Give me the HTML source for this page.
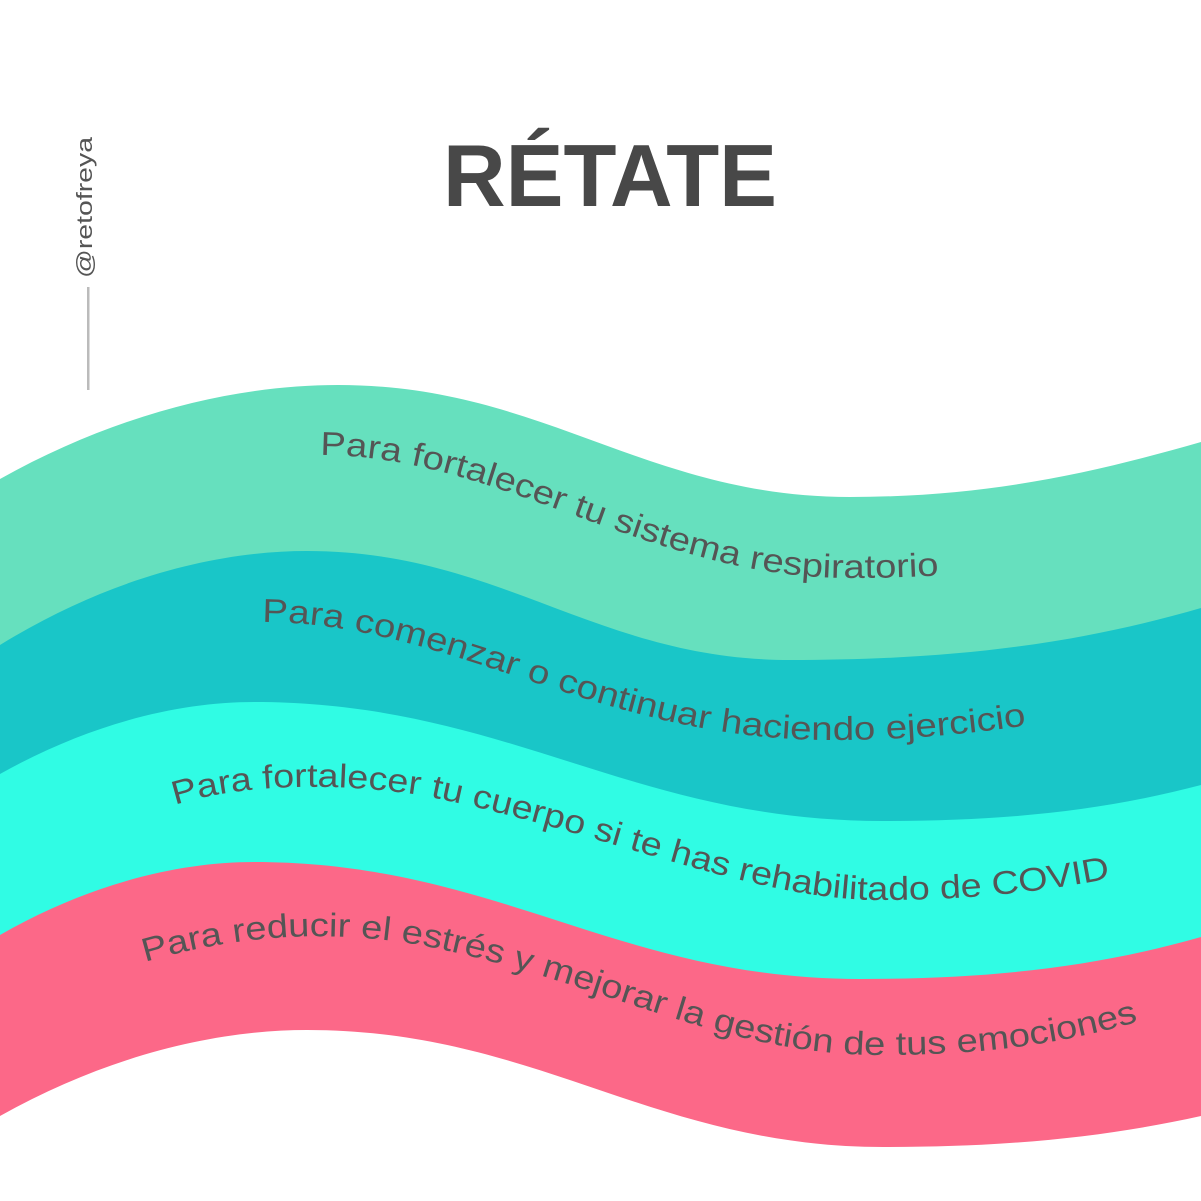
<!DOCTYPE html>
<html><head><meta charset="utf-8"><style>
html,body{margin:0;padding:0;background:#fff;}
svg{display:block;}
</style></head><body>
<svg width="1201" height="1201" viewBox="0 0 1201 1201" xmlns="http://www.w3.org/2000/svg">
<rect width="1201" height="1201" fill="#fff"/>
<text x="443" y="206" font-family="Liberation Sans, sans-serif" font-weight="bold" font-size="88" fill="#484848" textLength="334" lengthAdjust="spacingAndGlyphs">RÉTATE</text>
<text transform="translate(92,278) rotate(-90)" font-family="Liberation Sans, sans-serif" font-size="22" fill="#555" textLength="141" lengthAdjust="spacingAndGlyphs">@retofreya</text>
<rect x="87" y="287" width="2.5" height="103" fill="#bbb"/>

<path d="M0,479 C118,413 237,385 338,385 C543,385 645,497 850,497 C990,497 1096,472 1201,442 L1201,1201 L0,1201Z" fill="#66E0BE"/>
<path d="M0,645 C107,579 215,551 307,551 C500,551 597,660 790,660 C954,660 1077,644 1201,608 L1201,1201 L0,1201Z" fill="#19C6C8"/>
<path d="M0,774 C89,724 178,702 254,702 C506,702 631,821 883,821 C1010,821 1106,810 1201,785 L1201,1201 L0,1201Z" fill="#30FCE4"/>
<path d="M0,935 C89,884 178,862 254,862 C496,862 618,979 860,979 C996,979 1099,966 1201,937 L1201,1201 L0,1201Z" fill="#FC6888"/>
<path d="M0,1116 C107,1056 215,1030 307,1030 C537,1030 653,1147 883,1147 C1010,1147 1106,1137 1201,1116 L1201,1201 L0,1201Z" fill="#fff"/>

<defs>
<path id="t1" d="M320,455 C500,455 650,578 850,578 C950,578 1050,568 1150,548"/>
<path id="t2" d="M262,622 C450,622 600,740 830,740 C950,740 1050,725 1150,700"/>
<path id="t3" d="M175,805 C230,787 320,780 420,795 C600,830 750,900 880,900 C980,900 1060,890 1150,870"/>
<path id="t4" d="M145,962 C230,937 320,928 420,945 C600,980 720,1055 880,1055 C1000,1055 1080,1040 1160,1015"/>
</defs>
<g font-family="Liberation Sans, sans-serif" font-size="33" fill="#555">
<text><textPath href="#t1" textLength="636" lengthAdjust="spacingAndGlyphs">Para fortalecer tu sistema respiratorio</textPath></text>
<text><textPath href="#t2" textLength="780" lengthAdjust="spacingAndGlyphs">Para comenzar o continuar haciendo ejercicio</textPath></text>
<text><textPath href="#t3" textLength="952" lengthAdjust="spacingAndGlyphs">Para fortalecer tu cuerpo si te has rehabilitado de COVID</textPath></text>
<text><textPath href="#t4" textLength="1014" lengthAdjust="spacingAndGlyphs">Para reducir el estrés y mejorar la gestión de tus emociones</textPath></text>
</g>
</svg>
</body></html>
